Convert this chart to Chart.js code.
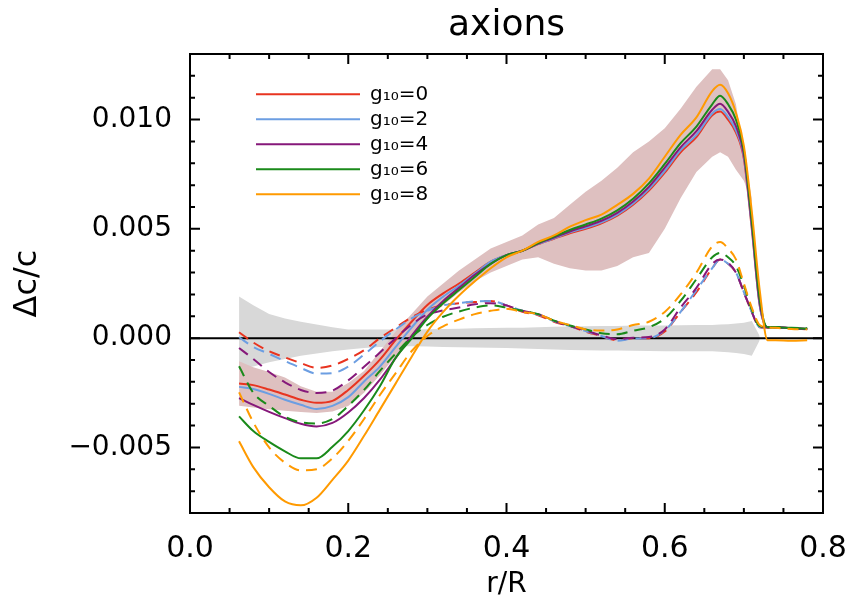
<!DOCTYPE html>
<html>
<head>
<meta charset="utf-8">
<script src="https://cdn.jsdelivr.net/npm/chart.js@4.4.1/dist/chart.umd.min.js"></script>
<style>
html,body{margin:0;padding:0;background:#fff;}
#wrap{width:852px;height:608px;}
</style>
</head>
<body>
<div id="wrap"><canvas id="c" width="852" height="608"></canvas></div>
<script>
// ---- data ----
const R = [0.062,0.08,0.10,0.12,0.14,0.16,0.18,0.20,0.22,0.24,0.26,0.28,0.30,0.32,0.34,0.36,0.38,0.40,0.42,0.44,0.46,0.48,0.50,0.52,0.54,0.56,0.58,0.60,0.62,0.64,0.66,0.67,0.68,0.69,0.70,0.71,0.72,0.73,0.74,0.76,0.78];

const solidG0 = [-0.00208,-0.00215,-0.00235,-0.00258,-0.00282,-0.00296,-0.00287,-0.00237,-0.00172,-0.00098,-0.00008,0.00075,0.00152,0.00205,0.0025,0.0030,0.0035,0.0038,0.0040,0.0043,0.00455,0.0048,0.0050,0.00525,0.0056,0.0061,0.00675,0.00757,0.0085,0.0092,0.0102,0.01037,0.0100,0.0094,0.0082,0.0050,0.0015,0.0005,0.0005,0.00045,0.00042];
const solidG2 = [-0.00223,-0.00233,-0.00255,-0.00282,-0.00305,-0.00324,-0.0031,-0.0027,-0.00198,-0.0013,-0.0004,0.00048,0.0013,0.0019,0.0024,0.00295,0.0035,0.0038,0.0040,0.00431,0.00457,0.00484,0.00505,0.0053,0.00565,0.00616,0.00682,0.00765,0.0086,0.0093,0.01028,0.01048,0.01012,0.0095,0.0083,0.0051,0.0015,0.0005,0.0005,0.00045,0.00042];
const solidG4 = [-0.00274,-0.00305,-0.00337,-0.00366,-0.00392,-0.00404,-0.00388,-0.0034,-0.00274,-0.0019,-0.0009,0.0001,0.00098,0.0017,0.0023,0.0029,0.0034,0.0038,0.0040,0.00433,0.0046,0.00488,0.00512,0.00537,0.00573,0.00625,0.00692,0.0078,0.00873,0.00947,0.01045,0.01072,0.01035,0.0097,0.0084,0.0052,0.0016,0.0005,0.0005,0.00045,0.00042];
const solidG6 = [-0.00358,-0.00425,-0.00475,-0.00518,-0.0055,-0.0055,-0.00497,-0.00425,-0.0033,-0.0022,-0.0009,-0.00002,0.0009,0.0016,0.0022,0.0028,0.0034,0.0038,0.0040,0.00435,0.00465,0.00495,0.0052,0.00547,0.00585,0.00638,0.00708,0.00797,0.00892,0.00968,0.0107,0.01109,0.0107,0.0100,0.0086,0.0054,0.0018,0.0005,0.0005,0.00046,0.00043];
const solidG8 = [-0.00472,-0.0059,-0.00682,-0.00747,-0.00765,-0.0073,-0.00648,-0.0056,-0.00447,-0.00327,-0.00207,-0.00086,0.0003,0.0012,0.00195,0.0026,0.0032,0.0037,0.0040,0.0044,0.0047,0.0051,0.0054,0.00565,0.0061,0.0066,0.0073,0.0083,0.0093,0.0101,0.0113,0.01159,0.0112,0.0103,0.0088,0.0058,0.0022,-0.0001,-0.0001,-0.00012,-0.0001];

const dashG0 = [0.00027,-0.0002,-0.0006,-0.00088,-0.00114,-0.00136,-0.00125,-0.00095,-0.00055,0.0000,0.00048,0.00095,0.0013,0.0015,0.0016,0.00165,0.0017,0.0015,0.0012,0.00105,0.00075,0.00055,0.0003,0.0001,-0.0001,0.0000,0.0000,0.0003,0.0012,0.0021,0.0032,0.0036,0.0034,0.0030,0.0021,0.0012,0.0005,0.00048,0.00048,0.00045,0.0004];
const dashG2 = [0.00004,-0.0004,-0.00072,-0.00105,-0.00136,-0.00162,-0.0016,-0.0013,-0.00075,-0.00015,0.0004,0.0009,0.00125,0.0015,0.0016,0.00168,0.0017,0.0015,0.00125,0.00108,0.00078,0.00055,0.00033,0.0001,-0.00012,-0.00002,0.0000,0.00035,0.0012,0.0022,0.0032,0.0036,0.0034,0.0030,0.0021,0.0012,0.0005,0.00048,0.00048,0.00045,0.0004];
const dashG4 = [-0.00045,-0.00095,-0.00155,-0.00202,-0.00237,-0.00251,-0.0024,-0.00193,-0.00131,-0.00066,0.0000,0.00062,0.00108,0.00127,0.0014,0.00155,0.0016,0.0015,0.00125,0.0011,0.0008,0.00055,0.00035,0.00012,-0.00005,0.00002,0.00005,0.0004,0.0014,0.0023,0.0034,0.0036,0.00345,0.0030,0.0021,0.0012,0.0005,0.0005,0.0005,0.00045,0.00042];
const dashG6 = [-0.00129,-0.0025,-0.0031,-0.0036,-0.00385,-0.0039,-0.0037,-0.0031,-0.00237,-0.0015,-0.0007,0.00005,0.0006,0.00098,0.00122,0.0014,0.0015,0.0014,0.00125,0.0011,0.0008,0.00058,0.0004,0.00022,0.00018,0.00034,0.0005,0.0009,0.0017,0.0027,0.0037,0.0039,0.0037,0.0033,0.0024,0.0013,0.00055,0.0005,0.0005,0.00047,0.00045];
const dashG8 = [-0.00248,-0.00385,-0.0050,-0.0057,-0.00605,-0.0060,-0.0055,-0.0047,-0.0037,-0.0026,-0.0016,-0.0006,0.0001,0.00054,0.00085,0.0011,0.00125,0.00134,0.0012,0.0011,0.0008,0.0006,0.0004,0.00035,0.0004,0.0006,0.00075,0.0012,0.0020,0.0030,0.0042,0.0044,0.0041,0.0036,0.0025,0.0014,0.0006,0.0005,0.00047,0.00042,0.0004];

// grey band (observational uncertainty), r <= 0.72
const grayR = R.slice(0, 37);
const grayUpper = [0.0019,0.0015,0.0011,0.0009,0.00075,0.00062,0.0005,0.0004,0.0004,0.0004,0.00039,0.0004,0.00041,0.00042,0.00043,0.00045,0.00046,0.00047,0.00048,0.0005,0.00052,0.00053,0.00054,0.00055,0.00056,0.00058,0.00058,0.00058,0.00059,0.0006,0.0006,0.00062,0.00064,0.00067,0.0007,0.00078,0.0001];
const grayLower = [-0.0014,-0.0013,-0.0011,-0.00095,-0.0008,-0.0007,-0.0006,-0.00052,-0.00045,-0.0004,-0.00037,-0.00037,-0.00038,-0.0004,-0.00042,-0.00043,-0.00044,-0.00045,-0.00047,-0.0005,-0.00052,-0.00054,-0.00055,-0.00056,-0.00057,-0.00058,-0.00059,-0.0006,-0.0006,-0.0006,-0.0006,-0.00062,-0.00064,-0.00068,-0.00072,-0.0008,-0.0001];

// brown band (model uncertainty), r <= 0.71
const brownR = R.slice(0, 36);
const brownUpper = [-0.00106,-0.00133,-0.00155,-0.0018,-0.0022,-0.00245,-0.00245,-0.00205,-0.0015,-0.0006,0.0003,0.0011,0.0019,0.0025,0.0031,0.0036,0.0041,0.0044,0.0047,0.0052,0.0055,0.0061,0.0067,0.0072,0.0078,0.0085,0.0090,0.0096,0.0105,0.0115,0.0123,0.0123,0.0118,0.0107,0.0084,0.0064];
const brownLower = [-0.00309,-0.00317,-0.00325,-0.00332,-0.00338,-0.00342,-0.00336,-0.0031,-0.0025,-0.0017,-0.0008,0.0001,0.0009,0.0015,0.0021,0.0026,0.0030,0.0033,0.0036,0.0037,0.0034,0.0032,0.0031,0.0031,0.0033,0.0037,0.0039,0.0050,0.0064,0.0076,0.0083,0.0085,0.0083,0.0077,0.0072,0.0062];

const seriesLabels = ['g\u2081\u2080=0','g\u2081\u2080=2','g\u2081\u2080=4','g\u2081\u2080=6','g\u2081\u2080=8'];
const seriesColors = ['rgb(232,52,32)','rgb(108,158,226)','rgb(134,24,122)','rgb(26,138,26)','rgb(255,154,0)'];
const solidSeries = [solidG0, solidG2, solidG4, solidG6, solidG8];
const dashSeries = [dashG0, dashG2, dashG4, dashG6, dashG8];

const X_MIN = 0, X_MAX = 0.8, X_MAJOR = 0.2, X_MINOR = 0.05;
const Y_MIN = -0.008, Y_MAX = 0.013, Y_MAJOR = 0.005, Y_MINOR = 0.001;

// ---- build chart ----
const pts = (xs, ys) => xs.map((x, i) => ({x: x, y: ys[i]}));
const FONT = 'DejaVu Sans';
Chart.defaults.font.family = FONT;
Chart.defaults.color = '#000';

const datasets = [
  {label:'grayU', data: pts(grayR, grayUpper), borderColor:'transparent', borderWidth:0, backgroundColor:'rgb(216,216,216)', fill:'+1', pointRadius:0, order:200},
  {label:'grayL', data: pts(grayR, grayLower), borderColor:'transparent', borderWidth:0, pointRadius:0, fill:false, order:201},
  {label:'brownU', data: pts(brownR, brownUpper), borderColor:'transparent', borderWidth:0, backgroundColor:'rgb(222,192,192)', fill:'+1', pointRadius:0, order:190},
  {label:'brownL', data: pts(brownR, brownLower), borderColor:'transparent', borderWidth:0, pointRadius:0, fill:false, order:191},
  {label:'zero', data: [{x:X_MIN,y:0},{x:X_MAX,y:0}], borderColor:'#000', borderWidth:2, pointRadius:0, fill:false, order:150}
];
const SOLID_IDX = [];
for (let k = 0; k < 5; k++) {
  SOLID_IDX.push(datasets.length);
  datasets.push({label: seriesLabels[k], data: pts(R, solidSeries[k]), borderColor: seriesColors[k], borderWidth: 2,
    pointRadius: 0, fill: false, cubicInterpolationMode: 'monotone', order: 100 - 2*k});
  datasets.push({label: seriesLabels[k] + ' (dashed)', data: pts(R, dashSeries[k]), borderColor: seriesColors[k], borderWidth: 2,
    borderDash: [11, 7], pointRadius: 0, fill: false, cubicInterpolationMode: 'monotone', order: 99 - 2*k});
}

const frameTicks = {
  id: 'frameTicks',
  afterDatasetsDraw(chart) {
    const {ctx, chartArea: a, scales: {x, y}} = chart;
    ctx.save();
    ctx.strokeStyle = '#000';
    ctx.lineWidth = 2;
    ctx.beginPath();
    const nx = Math.round((X_MAX - X_MIN) / X_MINOR);
    for (let k = 0; k <= nx; k++) {
      const v = X_MIN + k * X_MINOR;
      const px = x.getPixelForValue(v);
      const len = (k % Math.round(X_MAJOR / X_MINOR) === 0) ? 10 : 5;
      ctx.moveTo(px, a.bottom); ctx.lineTo(px, a.bottom - len);
      ctx.moveTo(px, a.top); ctx.lineTo(px, a.top + len);
    }
    const k0 = Math.round(Y_MIN / Y_MINOR), k1 = Math.round(Y_MAX / Y_MINOR);
    for (let k = k0; k <= k1; k++) {
      const v = k * Y_MINOR;
      const py = y.getPixelForValue(v);
      const len = (k % Math.round(Y_MAJOR / Y_MINOR) === 0) ? 10 : 5;
      ctx.moveTo(a.left, py); ctx.lineTo(a.left + len, py);
      ctx.moveTo(a.right, py); ctx.lineTo(a.right - len, py);
    }
    ctx.stroke();
    ctx.strokeRect(a.left, a.top, a.right - a.left, a.bottom - a.top);
    ctx.restore();
  }
};

const legendPlace = {
  id: 'legendPlace',
  afterLayout(chart) {
    const lg = chart.legend;
    if (!lg) return;
    lg.left = 251; lg.top = 79.3;
    lg.width = 260; lg.height = 140;
    lg.right = lg.left + lg.width; lg.bottom = lg.top + lg.height;
  }
};

new Chart(document.getElementById('c'), {
  type: 'line',
  data: { datasets: datasets },
  plugins: [frameTicks, legendPlace],
  options: {
    responsive: false,
    animation: false,
    devicePixelRatio: 1,
    events: [],
    layout: { padding: { left: 0, right: 29, top: 0, bottom: 0 } },
    scales: {
      x: {
        type: 'linear', min: X_MIN, max: X_MAX,
        afterFit: (s) => { s.height = 95; s.paddingLeft = 0; s.paddingRight = 0; },
        grid: { display: false, drawTicks: false },
        border: { display: false },
        ticks: { stepSize: X_MAJOR, padding: 18, autoSkip: false, maxRotation: 0, color: '#000',
          font: { family: FONT, size: 30 },
          callback: (v) => Number(v).toFixed(1) },
        title: { display: true, text: 'r/R', color: '#000', font: { family: FONT, size: 28 }, padding: { top: 0, bottom: 6 } }
      },
      y: {
        type: 'linear', min: Y_MIN, max: Y_MAX,
        afterFit: (s) => { s.width = 190; s.paddingTop = 0; s.paddingBottom = 0; },
        grid: { display: false, drawTicks: false },
        border: { display: false },
        ticks: { stepSize: Y_MINOR, maxTicksLimit: 100, autoSkip: false, padding: 18, color: '#000',
          font: { family: FONT, size: 28 },
          callback: (v) => {
            const q = v / Y_MAJOR;
            if (Math.abs(q - Math.round(q)) > 1e-6) return '';
            const s = Math.abs(v).toFixed(3);
            return (v < -1e-9 ? '\u2212' : '') + s;
          } },
        title: { display: true, text: '\u0394c/c', color: '#000', font: { family: FONT, size: 32 }, padding: { top: 8, bottom: 0 } }
      }
    },
    plugins: {
      title: { display: true, text: 'axions', color: '#000', fullSize: false,
        font: { family: FONT, size: 36, weight: 'normal' }, padding: { top: 4, bottom: 6.8 } },
      legend: {
        display: true, position: 'chartArea', align: 'start',
        labels: {
          boxWidth: 104, boxHeight: 2, padding: 5, color: '#000',
          font: { family: FONT, size: 20 },
          generateLabels: (chart) => SOLID_IDX.map((i) => {
            const ds = chart.data.datasets[i];
            return { text: ds.label, fillStyle: ds.borderColor, strokeStyle: ds.borderColor, lineWidth: 0,
              hidden: false, datasetIndex: i, fontColor: '#000' };
          })
        }
      },
      tooltip: { enabled: false }
    }
  }
});
</script>
</body>
</html>
